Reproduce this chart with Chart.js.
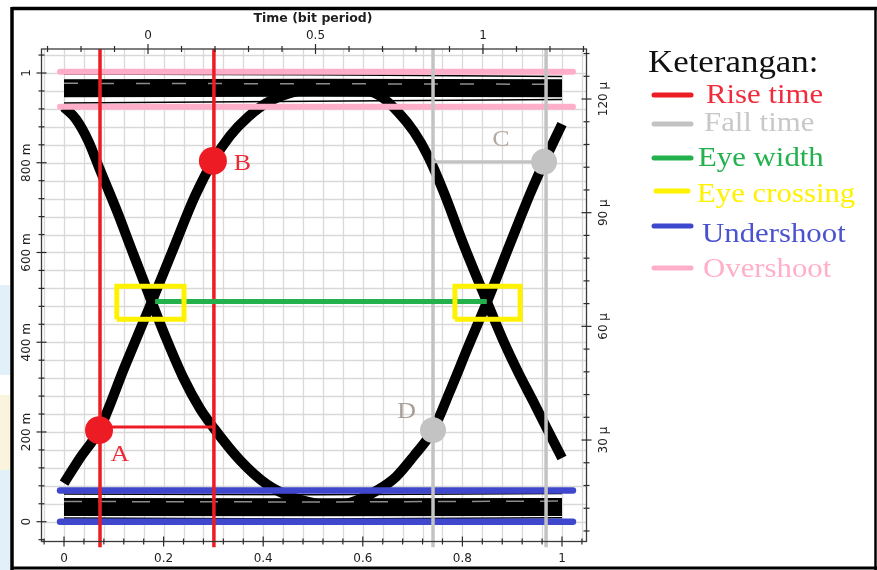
<!DOCTYPE html>
<html><head><meta charset="utf-8">
<script src="https://cdn.jsdelivr.net/npm/chart.js@4.4.1/dist/chart.umd.min.js"></script>
<style>html,body{margin:0;padding:0;background:#fff;overflow:hidden}canvas{display:block}</style>
</head><body>
<canvas id="c" width="877" height="570" style="width:877px;height:570px"></canvas>
<script>
// ---------- tick labels ----------
const bottomTicks = [0, 0.2, 0.4, 0.6, 0.8, 1];
const bottomTickLabels = ['0', '0.2', '0.4', '0.6', '0.8', '1'];
const leftTicks = [0, 0.2, 0.4, 0.6, 0.8, 1];
const leftTickLabels = ['0', '200 m', '400 m', '600 m', '800 m', '1'];
const topTicks = [0, 0.5, 1];
const topTickLabels = ['0', '0.5', '1'];
const rightTicks = [30, 60, 90, 120];            // micro units
const rightTickLabels = ['30 µ', '60 µ', '90 µ', '120 µ'];
const topTitle = 'Time (bit period)';

// ---------- eye diagram traces (bottom-axis x, left-axis y) ----------
const rise1X = [0, 0.0321, 0.0703, 0.1225, 0.1761, 0.2209, 0.2631, 0.2992, 0.3333, 0.3695, 0.4096, 0.4699, 0.5542];
const rise1Y = [0.086, 0.142, 0.204, 0.347, 0.490, 0.612, 0.726, 0.804, 0.860, 0.902, 0.935, 0.960, 0.973];
const fall1X = [0, 0.0241, 0.0482, 0.0723, 0.1064, 0.1345, 0.1761, 0.2068, 0.2390, 0.2731, 0.3012, 0.3534, 0.4076, 0.4598, 0.5341, 0.6145];
const fall1Y = [0.924, 0.897, 0.850, 0.784, 0.692, 0.610, 0.490, 0.404, 0.322, 0.252, 0.208, 0.137, 0.083, 0.054, 0.035, 0.028];
const rise2X = [0.5141, 0.5743, 0.6305, 0.6667, 0.7028, 0.7410, 0.7751, 0.8112, 0.8494, 0.8956, 0.9357, 0.9679, 1.0];
const rise2Y = [0.031, 0.042, 0.071, 0.100, 0.147, 0.204, 0.291, 0.389, 0.490, 0.619, 0.730, 0.811, 0.886];
const fall2X = [0.5141, 0.5944, 0.6345, 0.6707, 0.7028, 0.7309, 0.7631, 0.8012, 0.8494, 0.8815, 0.9116, 0.9418, 0.9699, 1.0];
const fall2Y = [0.975, 0.967, 0.949, 0.913, 0.869, 0.815, 0.733, 0.621, 0.490, 0.405, 0.334, 0.269, 0.207, 0.142];

const bandX = [0, 0.5, 1];
const topCoreY = [0.966, 0.967, 0.966];
const topUpperY = [0.998, 0.996, 0.992];
const topLowerY = [0.933, 0.937, 0.941];
const topStreakY = [0.977, 0.976, 0.975];
const botCoreY = [0.033, 0.032, 0.033];
const botUpperY = [0.062, 0.060, 0.063];
const botLowerY = [0.008, 0.006, 0.009];
const botStreakY = [0.045, 0.044, 0.046];

// ---------- annotations ----------
const overshootY = [1.003, 0.925];
const undershootY = [0.0695, 0.0];
const levelLineX = [-0.008, 1.022];
const riseTimeX = [0.0723, 0.301];
const fallTimeX = [0.741, 0.968];
const markerLineY = [-0.057, 1.0535];
const riseSpanX = [0.070, 0.303]; const riseSpanY = 0.211;
const fallSpanX = [0.741, 0.964]; const fallSpanY = 0.802;
const eyeWidthX = [0.183, 0.849]; const eyeWidthY = 0.491;
const cross1X = [0.106, 0.241]; const cross2X = [0.785, 0.916]; const crossY = [0.451, 0.525];
const pointNames = ['A', 'B', 'C', 'D'];
const pointX = [0.0703, 0.299, 0.964, 0.741];
const pointY = [0.204, 0.804, 0.802, 0.204];
const pointColors = ['#ed1c24', '#ed1c24', '#c3c3c3', '#c3c3c3'];
const pointRadii = [14, 14, 13, 13];
const nameX = [0.1124, 0.3584, 0.8775, 0.6878];
const nameY = [0.151, 0.8005, 0.854, 0.2478];
const nameColors = ['#ee2a34', '#ee2a34', '#b3aaa2', '#a89e96'];

const legendTitle = 'Keterangan:';
const legendLabels = ['Rise time', 'Fall time', 'Eye width', 'Eye crossing', 'Undershoot', 'Overshoot'];
const legendColors = ['#ed1c24', '#c3c3c3', '#22b14c', '#fff200', '#3f48cc', '#ffaec9'];
const legendTextColors = ['#f02c3c', '#c8c8c8', '#22b14c', '#fff200', '#4a52cf', '#ffb0c8'];

// ---------- helpers ----------
const pts = (xs, ys) => xs.map((x, i) => ({x, y: ys[i]}));
const flat = (xs, y) => xs.map(x => ({x, y}));
const vert = (x, ys) => ys.map(y => ({x, y}));
const rect = (xs, ys) => [{x: xs[0], y: ys[0]}, {x: xs[1], y: ys[0]}, {x: xs[1], y: ys[1]}, {x: xs[0], y: ys[1]}, {x: xs[0], y: ys[0]}];
function line(data, color, width, extra) {
  return Object.assign({data, borderColor: color, borderWidth: width, pointRadius: 0, fill: false, tension: 0, clip: false}, extra || {});
}
const edge = (xs, ys) => line(pts(xs, ys), '#000', 10, {cubicInterpolationMode: 'monotone', borderCapStyle: 'butt'});

const datasets = [
  {data: pts(pointX, pointY), showLine: false, pointRadius: pointRadii, pointBackgroundColor: pointColors, pointBorderWidth: 0, clip: false},
  line(rect(cross1X, crossY), '#fff200', 5, {borderJoinStyle: 'miter'}),
  line(rect(cross2X, crossY), '#fff200', 5, {borderJoinStyle: 'miter'}),
  line(flat(eyeWidthX, eyeWidthY), '#22b14c', 5),
  line(flat(riseSpanX, riseSpanY), '#ed1c24', 3),
  line(flat(fallSpanX, fallSpanY), '#c3c3c3', 3),
  line(vert(riseTimeX[0], markerLineY), '#ed1c24', 3.5),
  line(vert(riseTimeX[1], markerLineY), '#ed1c24', 3.5),
  line(vert(fallTimeX[0], markerLineY), '#c3c3c3', 3.5),
  line(vert(fallTimeX[1], markerLineY), '#c3c3c3', 3.5),
  line(flat(levelLineX, overshootY[0]), '#ffaec9', 6, {borderCapStyle: 'round'}),
  line(flat(levelLineX, overshootY[1]), '#ffaec9', 6, {borderCapStyle: 'round'}),
  line(flat(levelLineX, undershootY[0]), '#3f48cc', 6.5, {borderCapStyle: 'round'}),
  line(flat(levelLineX, undershootY[1]), '#3f48cc', 6.5, {borderCapStyle: 'round'}),
  line(pts(bandX, topStreakY), '#8c8c8c', 1.5, {borderDash: [14, 22]}),
  line(pts(bandX, botStreakY), '#8c8c8c', 1.5, {borderDash: [18, 16]}),
  edge(rise1X, rise1Y), edge(fall1X, fall1Y), edge(rise2X, rise2Y), edge(fall2X, fall2Y),
  line(pts(bandX, topCoreY), '#000', 18),
  line(pts(bandX, topUpperY), '#000', 1.5),
  line(pts(bandX, topLowerY), '#000', 1.5),
  line(pts(bandX, botCoreY), '#000', 18),
  line(pts(bandX, botUpperY), '#000', 1.5),
  line(pts(bandX, botLowerY), '#000', 1.5)
];

function stretchText(ctx, text, x, y, font, color, sx, align) {
  ctx.save();
  ctx.font = font; ctx.fillStyle = color;
  ctx.textAlign = align || 'left'; ctx.textBaseline = 'alphabetic';
  ctx.translate(x, y); ctx.scale(sx, 1);
  ctx.fillText(text, 0, 0);
  ctx.restore();
}

const decor = {
  id: 'decor',
  beforeDraw(chart) {
    const ctx = chart.ctx, a = chart.chartArea, sx = chart.scales.x, sy = chart.scales.y;
    ctx.save();
    ctx.fillStyle = '#fff'; ctx.fillRect(0, 0, chart.width, chart.height);
    ctx.fillStyle = '#e2f0fa'; ctx.fillRect(0, 285, 10, 90); ctx.fillRect(0, 470, 10, 100);
    ctx.fillStyle = '#fbf4dc'; ctx.fillRect(0, 395, 10, 75);
    ctx.strokeStyle = '#d9d9d9'; ctx.lineWidth = 1.3;
    for (let i = -1; i <= 26; i++) {
      const px = Math.round(sx.getPixelForValue(i * 0.04)) + 0.5;
      if (px > a.left + 1 && px < a.right - 1) { ctx.beginPath(); ctx.moveTo(px, a.top); ctx.lineTo(px, a.bottom); ctx.stroke(); }
      const py = Math.round(sy.getPixelForValue(i * 0.04)) + 0.5;
      if (py > a.top + 1 && py < a.bottom - 1) { ctx.beginPath(); ctx.moveTo(a.left, py); ctx.lineTo(a.right, py); ctx.stroke(); }
    }
    ctx.restore();
  },
  afterDatasetsDraw(chart) {
    const ctx = chart.ctx, a = chart.chartArea, s = chart.scales;
    ctx.save();
    // frame
    ctx.strokeStyle = '#3a3a3a'; ctx.lineWidth = 1.3;
    ctx.strokeRect(a.left, a.top, a.right - a.left, a.bottom - a.top);
    const tick = (x1, y1, x2, y2) => { ctx.beginPath(); ctx.moveTo(x1, y1); ctx.lineTo(x2, y2); ctx.stroke(); };
    ctx.lineWidth = 1.2; ctx.strokeStyle = '#2a2a2a';
    for (let i = -1; i <= 26; i++) {
      const major = i % 5 === 0, L = major ? 5 : 3;
      const px = s.x.getPixelForValue(i * 0.04);
      if (px >= a.left && px <= a.right) tick(px, a.bottom - L, px, a.bottom + L);
      const py = s.y.getPixelForValue(i * 0.04);
      if (py >= a.top && py <= a.bottom) tick(a.left - L, py, a.left + L, py);
    }
    for (let i = -3; i <= 13; i++) {
      const L = i % 5 === 0 ? 5 : 3;
      const px = s.xTop.getPixelForValue(i * 0.1);
      if (px >= a.left && px <= a.right) tick(px, a.top - L, px, a.top + L);
    }
    for (let i = 1; i <= 22; i++) {
      const L = i % 5 === 0 ? 5 : 3;
      const py = s.yRight.getPixelForValue(i * 6);
      if (py >= a.top && py <= a.bottom) tick(a.right - L, py, a.right + L, py);
    }
    // tick labels
    ctx.fillStyle = '#1e1e1e'; ctx.font = '12px "DejaVu Sans"';
    ctx.textAlign = 'center'; ctx.textBaseline = 'middle';
    bottomTicks.forEach((v, i) => ctx.fillText(bottomTickLabels[i], s.x.getPixelForValue(v), 559));
    topTicks.forEach((v, i) => ctx.fillText(topTickLabels[i], s.xTop.getPixelForValue(v), 36));
    const rot = (txt, x, y) => { ctx.save(); ctx.translate(x, y); ctx.rotate(-Math.PI / 2); ctx.fillText(txt, 0, 0); ctx.restore(); };
    leftTicks.forEach((v, i) => rot(leftTickLabels[i], 27, s.y.getPixelForValue(v)));
    rightTicks.forEach((v, i) => rot(rightTickLabels[i], 604, s.yRight.getPixelForValue(v)));
    ctx.font = 'bold 12.5px "DejaVu Sans"';
    ctx.fillText(topTitle, 313, 19);
    // point names
    pointNames.forEach((n, i) => {
      ctx.save();
      ctx.font = '24px "Liberation Serif"'; ctx.fillStyle = nameColors[i];
      ctx.textAlign = 'center'; ctx.textBaseline = 'middle';
      ctx.translate(s.x.getPixelForValue(nameX[i]), s.y.getPixelForValue(nameY[i]) + 1);
      ctx.scale(1.08, 1);
      ctx.fillText(n, 0, 0);
      ctx.restore();
    });
    // legend
    stretchText(ctx, legendTitle, 648, 72, '32px "Liberation Serif"', '#111', 1.09);
    const lineY = [95, 124, 158, 191, 226, 268];
    const textY = [103, 131, 166, 202, 242, 277];
    const textX = [706, 704, 698, 697, 702, 703];
    legendLabels.forEach((lab, i) => {
      ctx.strokeStyle = legendColors[i]; ctx.lineWidth = 5; ctx.lineCap = 'round';
      const x0 = i === 3 ? 656 : 654, x1 = i === 3 ? 688 : 691;
      ctx.beginPath(); ctx.moveTo(x0, lineY[i]); ctx.lineTo(x1, lineY[i]); ctx.stroke();
      stretchText(ctx, lab, textX[i], textY[i], '28px "Liberation Serif"', legendTextColors[i], 1.1);
    });
    // outer border
    ctx.lineCap = 'butt';
    ctx.strokeStyle = '#000'; ctx.lineWidth = 3.5;
    ctx.beginPath(); ctx.moveTo(12, 8.5); ctx.lineTo(877, 8.5); ctx.stroke();
    ctx.beginPath(); ctx.moveTo(12, 7); ctx.lineTo(12, 570); ctx.stroke();
    ctx.lineWidth = 3;
    ctx.beginPath(); ctx.moveTo(12, 568); ctx.lineTo(877, 568); ctx.stroke();
    ctx.lineWidth = 2.5;
    ctx.beginPath(); ctx.moveTo(875.5, 7); ctx.lineTo(875.5, 570); ctx.stroke();
    ctx.restore();
  }
};

new Chart(document.getElementById('c'), {
  type: 'line',
  data: {datasets},
  options: {
    responsive: false, animation: false, events: [],
    layout: {padding: {left: 41.5, right: 290.5, top: 49, bottom: 28.5}},
    plugins: {legend: {display: false}, tooltip: {enabled: false}},
    scales: {
      x: {type: 'linear', min: -0.0452, max: 1.0492, display: false},
      y: {type: 'linear', min: -0.0441, max: 1.0535, display: false},
      xTop: {type: 'linear', axis: 'x', position: 'top', min: -0.318, max: 1.309, display: false},
      yRight: {type: 'linear', axis: 'y', position: 'right', min: 3.22, max: 133.2, display: false}
    }
  },
  plugins: [decor]
});
</script>
</body></html>
